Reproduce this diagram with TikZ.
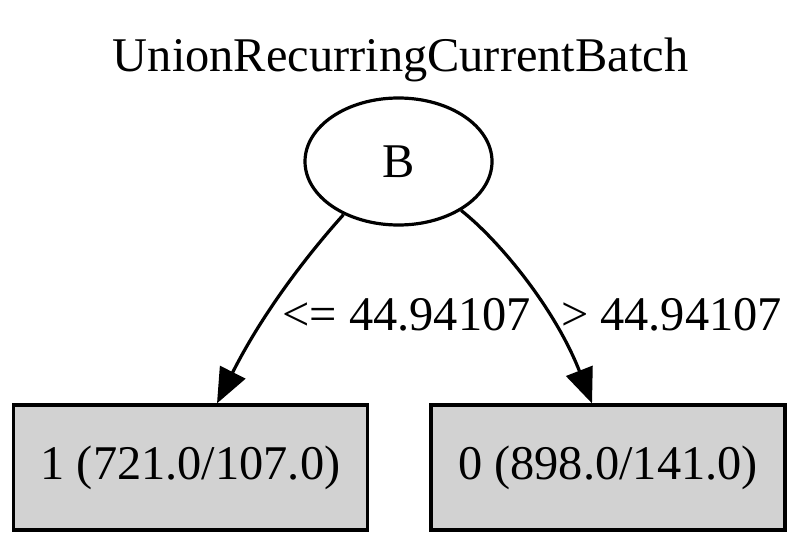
\documentclass[tikz,border=0pt]{standalone}
\usepackage{fontspec}
\setmainfont{Liberation Serif}
\usetikzlibrary{arrows.meta,calc,shapes.geometric}
\tikzset{
  splitnode/.style={draw,ellipse,line width=0.8pt,minimum width=46.75pt,minimum height=31.75pt,inner sep=0pt},
  leafblk/.style={draw,rectangle,line width=0.8pt,fill=lightgray!70,minimum width=88.5pt,minimum height=31.25pt,inner sep=0pt},
  arr/.style={-{Triangle[length=8.75pt,width=7pt]},line width=0.8pt},
  lbl/.style={anchor=base,inner sep=0pt}
}
\begin{document}
\begin{tikzpicture}[x=0.25pt,y=-0.25pt,font=\fontsize{12.1}{14.5}\selectfont]
  \useasboundingbox (0,0) rectangle (800,545);
  \node[lbl] (title) at (400.5,72) {UnionRecurringCurrentBatch};

  \node[splitnode] (B) at (398.5,161.5) {B};
  \node[leafblk] (L) at (190.5,467.5) {1 (721.0/107.0)};
  \node[leafblk] (R) at (608,467.5) {0 (898.0/141.0)};

  \draw[arr] (B.224) .. controls +(-18,20) and +(53,-105) .. ($(L.north)+(26.5,0)$);
  \draw[arr] (B.322) .. controls +(38,30) and +(-37,-95) .. ($(R.north)+(-16,0)$);

  \node[lbl] (le) at (406.5,330) {<= 44.94107};
  \node[lbl] (gt) at (671.5,330) {> 44.94107};
\end{tikzpicture}
\end{document}
